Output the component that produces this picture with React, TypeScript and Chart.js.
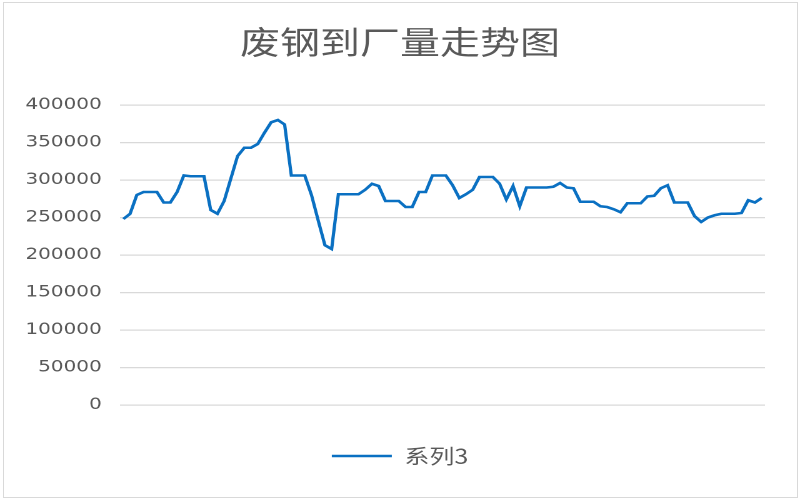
import React, { useEffect, useRef } from 'react';
import { Chart, registerables } from 'chart.js';

Chart.register(...registerables);

const chartTitle = '废钢到厂量走势图';
const seriesName = '系列3';

const toArea: number[] = [
  248000, 255000, 280000, 284000, 284000, 284000, 270000, 270000, 284000, 306000,
  305000, 305000, 305000, 260000, 255000, 272000, 302000, 332000, 343000, 343000,
  348000, 363000, 377000, 380000, 374000, 306000, 306000, 306000, 280000, 246000,
  213000, 208000, 281000, 281000, 281000, 281000, 287000, 295000, 292000, 272000,
  272000, 272000, 264000, 264000, 284000, 284000, 306000, 306000, 306000, 293000,
  276000, 281000, 287000, 304000, 304000, 304000, 295000, 274000, 292000, 265000,
  290000, 290000, 290000, 290000, 291000, 296000, 290000, 289000, 271000, 271000,
  271000, 265000, 264000, 261000, 257000, 269000, 269000, 269000, 278000, 279000,
  289000, 293000, 270000, 270000, 270000, 252000, 244000, 250000, 253000, 255000,
  255000, 255000, 256000, 273000, 270000, 276000,
];

const categories: string[] = toArea.map((_, i) => String(i + 1));

const yMin = 0;
const yMax = 400000;
const yStep = 50000;

const SX = 1.25;
const CJK = '"Noto Sans CJK SC", "Noto Sans", sans-serif';

export default function App() {
  const ref = useRef<HTMLCanvasElement>(null);

  useEffect(() => {
    if (!ref.current) return;
    const chart = new Chart(ref.current, {
      type: 'line',
      data: {
        labels: categories,
        datasets: [
          {
            label: seriesName,
            data: toArea,
            borderColor: '#0a70c2',
            backgroundColor: '#0a70c2',
            borderWidth: 2.6,
            pointRadius: 0,
            pointHoverRadius: 0,
            tension: 0,
            fill: false,
            yAxisID: 'y',
          },
        ],
      },
      options: {
        responsive: false,
        animation: false,
        devicePixelRatio: 2,
        layout: { padding: { left: 0, right: 0, top: 0, bottom: 24 } },
        plugins: {
          title: {
            display: true,
            text: chartTitle,
            color: '#595959',
            font: { family: CJK, size: 32, weight: 'normal', lineHeight: 1.2 },
            padding: { top: 22.8, bottom: 43.8 },
          },
          legend: {
            position: 'bottom',
            labels: {
              usePointStyle: true,
              pointStyle: 'line',
              pointStyleWidth: 48,
              color: '#595959',
              font: { family: CJK, size: 20 },
              padding: 10,
            },
          },
          tooltip: { enabled: false },
        },
        scales: {
          x: {
            type: 'category',
            offset: true,
            display: true,
            ticks: { display: false },
            grid: { display: false },
            border: { display: false },
            afterFit: (s: any) => {
              s.height = 31;
            },
          },
          y: {
            position: 'left',
            min: yMin,
            max: yMax,
            ticks: {
              stepSize: yStep,
              color: '#595959',
              font: { family: '"DejaVu Sans", sans-serif', size: 16 },
              padding: 14.6,
              callback: (v: any) => String(v),
            },
            grid: { color: '#d9d9d9', lineWidth: 1.2, drawTicks: false },
            border: { display: false },
            afterFit: (s: any) => {
              s.width = 96;
            },
          },
          yRight: {
            position: 'right',
            display: true,
            min: yMin,
            max: yMax,
            ticks: { display: false },
            grid: { display: false, drawTicks: false },
            border: { display: false },
            afterFit: (s: any) => {
              s.width = 28;
            },
          },
        },
      },
    });
    return () => chart.destroy();
  }, []);

  return (
    <div style={{ position: 'fixed', left: 0, top: 0, width: 800, height: 500, background: '#fff', overflow: 'hidden' }}>
      <div
        style={{
          position: 'absolute',
          left: 0,
          top: 0,
          width: 640,
          height: 500,
          transform: `scaleX(${SX})`,
          transformOrigin: '0 0',
        }}
      >
        <canvas ref={ref} width={640} height={500} />
      </div>
      <div
        style={{
          position: 'absolute',
          left: 3,
          top: 2,
          width: 793,
          height: 494,
          border: '1px solid #d9d9d9',
          pointerEvents: 'none',
        }}
      />
    </div>
  );
}
